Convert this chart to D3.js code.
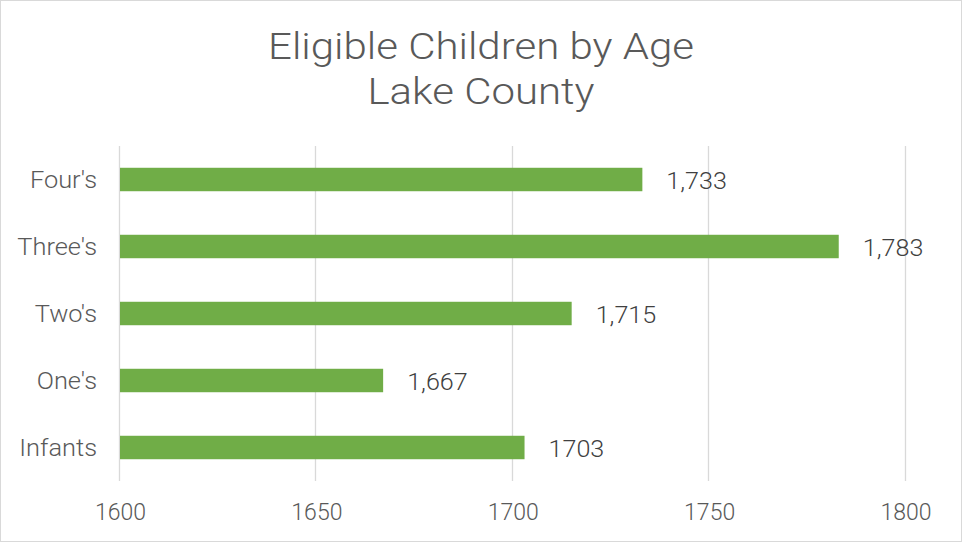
<!DOCTYPE html>
<html><head><meta charset="utf-8">
<script src="https://cdn.jsdelivr.net/npm/d3@7/dist/d3.min.js"></script>
<style>body{margin:0;background:#fff;} svg{display:block;} text{font-family:Roboto, "DejaVu Sans", sans-serif;}</style>
</head><body>
<svg id="c" width="962" height="542"></svg>
<script>
const categories = ["Four's", "Three's", "Two's", "One's", "Infants"];
const values = [1733, 1783, 1715, 1667, 1703];
const valueLabels = ["1,733", "1,783", "1,715", "1,667", "1703"];
const tickValues = [1600, 1650, 1700, 1750, 1800];
const titleLines = ["Eligible Children by Age", "Lake County"];

const svg = d3.select("#c");
svg.append("rect").attr("x",0.5).attr("y",0.5).attr("width",961).attr("height",541)
  .attr("fill","#fff").attr("stroke","#d9d9d9").attr("stroke-width",1);

const x = d3.scaleLinear().domain([1600,1800]).range([120,905.5]);
const y = d3.scaleBand().domain(categories).range([146,481]).paddingInner(0.65).paddingOuter(0.325);

// gridlines
svg.append("g").selectAll("line").data(tickValues).join("line")
  .attr("x1",d=>Math.round(x(d))-0.5).attr("x2",d=>Math.round(x(d))-0.5)
  .attr("y1",146).attr("y2",481).attr("stroke","#d9d9d9").attr("stroke-width",1.3);

// x axis labels
const xa = svg.append("g").attr("transform","translate(0,481)")
  .call(d3.axisBottom(x).tickValues(tickValues).tickFormat(d3.format("d")).tickSize(0).tickPadding(0));
xa.select(".domain").remove();
xa.selectAll("text").attr("y",39).attr("dy",null).attr("font-size","23px").attr("fill","#595959")
  .attr("font-family","Roboto").attr("font-weight",300);

// y axis labels
const ya = svg.append("g").attr("transform","translate(97,0)")
  .call(d3.axisLeft(y).tickSize(0).tickPadding(0));
ya.select(".domain").remove();
ya.selectAll("text").attr("dy",null).attr("y",8.5).attr("x",0).attr("font-size","23.5px").attr("fill","#595959")
  .attr("font-family","Roboto").attr("font-weight",300).attr("transform","scale(1.08,1)");

// bars
svg.append("g").selectAll("rect").data(values).join("rect")
  .attr("x",x(1600)).attr("y",(d,i)=>y(categories[i]))
  .attr("width",d=>x(d)-x(1600)).attr("height",y.bandwidth())
  .attr("fill","#70ad47");

// data labels
svg.append("g").selectAll("text").data(values).join("text")
  .attr("transform",(d,i)=>`translate(${x(d)+24},${y(categories[i])+y.bandwidth()/2+9.5}) scale(1.07,1)`)
  .attr("font-size","23.5px").attr("fill","#404040").attr("font-weight",300)
  .text((d,i)=>valueLabels[i]);

// title
const titleWidths = [426, 227];
svg.append("g").selectAll("text").data(titleLines).join("text")
  .attr("x",481).attr("y",(d,i)=>58.5+i*45.5).attr("text-anchor","middle")
  .attr("font-size","37px").attr("fill","#595959").attr("font-weight",300)
  .attr("textLength",(d,i)=>titleWidths[i]).attr("lengthAdjust","spacingAndGlyphs")
  .text(d=>d);
</script>
</body></html>
